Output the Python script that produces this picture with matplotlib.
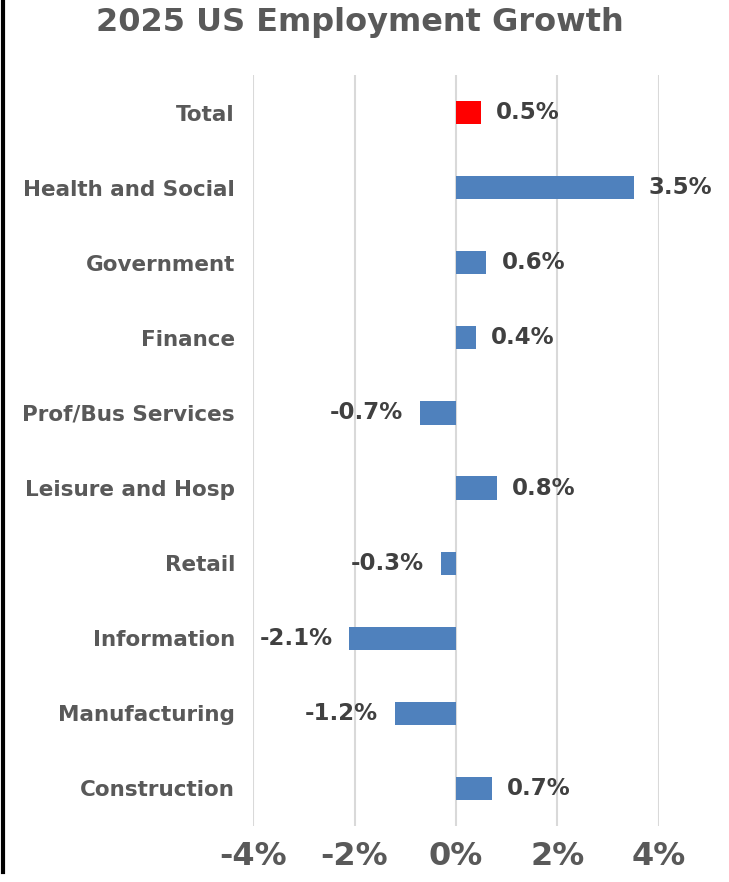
import matplotlib
matplotlib.use("Agg")
import matplotlib.pyplot as plt
from matplotlib.lines import Line2D

categories = ["Total", "Health and Social", "Government", "Finance",
              "Prof/Bus Services", "Leisure and Hosp", "Retail",
              "Information", "Manufacturing", "Construction"]
values = [0.5, 3.5, 0.6, 0.4, -0.7, 0.8, -0.3, -2.1, -1.2, 0.7]
colors = ["#FF0000"] + ["#4F81BD"] * 9
xticks = [-4, -2, 0, 2, 4]
xtick_labels = ["-4%", "-2%", "0%", "2%", "4%"]

FONT = "DejaVu Sans"

fig = plt.figure(figsize=(7.29, 8.82), dpi=100)
ax = fig.add_axes([253/729, 1-826/882, 406/729, 751/882])

ypos = list(range(len(categories)))
ax.barh(ypos, values, height=0.31, color=colors, zorder=3)
ax.set_ylim(len(categories)-0.5, -0.5)
ax.set_xlim(-4, 4)
ax.set_xticks(xticks)
ax.set_xticklabels(xtick_labels, fontsize=23, fontweight="bold", color="#595959", family=FONT)
ax.tick_params(axis="x", length=0, pad=11)
ax.set_yticks(ypos)
ax.set_yticklabels(categories, fontsize=15.5, fontweight="bold", color="#595959", family=FONT)
ax.tick_params(axis="y", length=0, pad=13)
ax.grid(axis="x", color="#D9D9D9", linewidth=1.5, zorder=0)
for s in ax.spines.values():
    s.set_visible(False)

for y, v in zip(ypos, values):
    if v >= 0:
        ax.annotate(f"{v:.1f}%", (v, y), xytext=(15, 0), textcoords="offset pixels",
                    ha="left", va="center", fontsize=16.5, fontweight="bold",
                    color="#404040", family=FONT)
    else:
        ax.annotate(f"{v:.1f}%", (v, y), xytext=(-17, 0), textcoords="offset pixels",
                    ha="right", va="center", fontsize=16.5, fontweight="bold",
                    color="#404040", family=FONT)

fig.text(360/729, 1-22/882, "2025 US Employment Growth", ha="center", va="center",
         fontsize=23, fontweight="bold", color="#595959", family=FONT)

fig.add_artist(Line2D([3/729, 3/729], [1-872/882, 1.0], color="black", linewidth=3,
                      transform=fig.transFigure))

fig.savefig("out.png", dpi=100, facecolor="white")
